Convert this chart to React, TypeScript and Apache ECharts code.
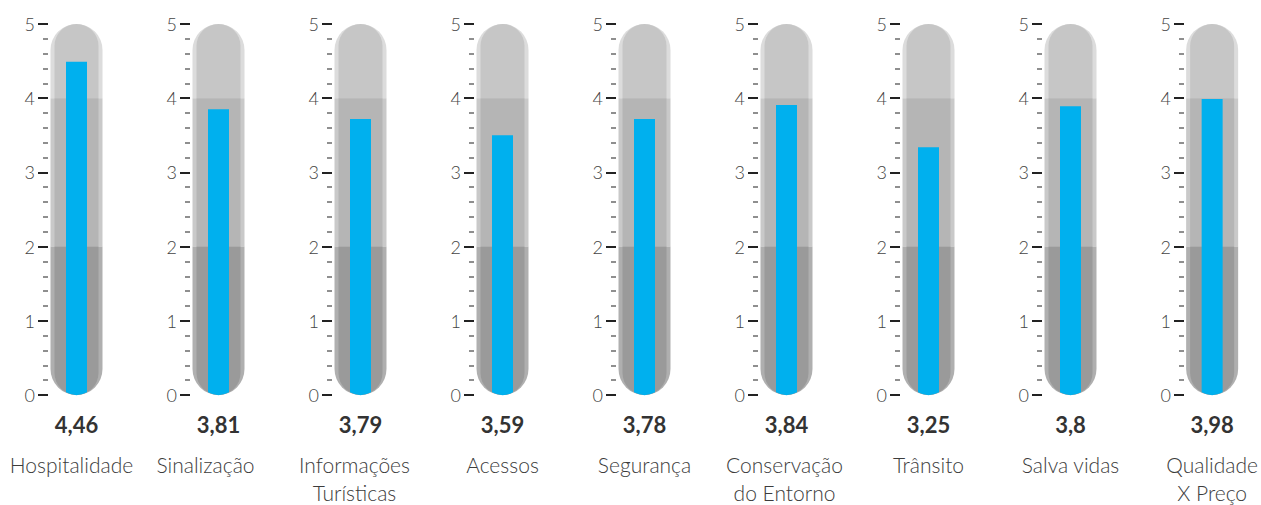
import React, { useEffect, useRef } from "react";
import * as echarts from "echarts";

const categories = [
  "Hospitalidade",
  "Sinalização",
  "Informações\nTurísticas",
  "Acessos",
  "Segurança",
  "Conservação\ndo Entorno",
  "Trânsito",
  "Salva vidas",
  "Qualidade\nX Preço",
];
// printed scores under each gauge
const scores = [4.46, 3.81, 3.79, 3.59, 3.78, 3.84, 3.25, 3.8, 3.98];
// level of the blue column as drawn in the picture
const levels = [4.49, 3.85, 3.72, 3.5, 3.72, 3.91, 3.34, 3.89, 3.99];
const bandBreaks = [2, 4];
const yMin = 0;
const yMax = 5;

// layout: horizontal nudge of each category name (px)
const nameShift = [-5, -13, -6, 0, 0, -2, 0, 0, 0];

const FONT = "Lato, 'Noto Sans', sans-serif";

export default function App() {
  const ref = useRef<HTMLDivElement>(null);
  useEffect(() => {
    if (!ref.current) return;
    const chart = echarts.init(ref.current, null, { renderer: "svg" });
    const n = categories.length;
    const firstCenter = 76.5;
    const step = 142;
    const grids: any[] = [];
    const xAxes: any[] = [];
    const yAxes: any[] = [];
    const series: any[] = [];
    for (let i = 0; i < n; i++) {
      const cx = firstCenter + step * i;
      grids.push({ left: cx - 28.5, width: 57, top: 24, bottom: 110 });
      const fmtScore = String(scores[i]).replace(".", ",");
      const nameLines = categories[i].split("\n");
      const sh = nameShift[i];
      const pad = sh < 0 ? [0, -2 * sh, 0, 0] : [0, 0, 0, 2 * sh];
      xAxes.push({
        type: "category",
        gridIndex: i,
        data: [categories[i]],
        axisLine: { show: false },
        axisTick: { show: false },
        axisLabel: {
          interval: 0,
          margin: 3,
          formatter: () =>
            `{v|${fmtScore}}\n` + nameLines.map((l) => `{n|${l}}`).join("\n"),
          rich: {
            v: {
              fontSize: 22,
              fontWeight: "bold",
              color: "#333",
              fontFamily: FONT,
              lineHeight: 52,
              align: "center",
            },
            n: {
              fontSize: 21,
              fontWeight: 300,
              color: "#3c3c3c",
              fontFamily: FONT,
              lineHeight: 28,
              align: "center",
              padding: pad,
            },
          },
        },
      });
      yAxes.push({
        type: "value",
        gridIndex: i,
        min: yMin,
        max: yMax,
        interval: 1,
        axisLine: { show: false, lineStyle: { color: "#222" } },
        axisTick: { show: true, length: 10, lineStyle: { color: "#222", width: 2 } },
        minorTick: { show: true, splitNumber: 5, length: 5, lineStyle: { color: "#6a6a6a", width: 1.5 } },
        splitLine: { show: false },
        minorSplitLine: { show: false },
        axisLabel: {
          margin: 13,
          fontSize: 18,
          fontWeight: 300,
          color: "#444",
          fontFamily: FONT,
        },
      });
      series.push({
        type: "custom",
        xAxisIndex: i,
        yAxisIndex: i,
        clip: false,
        data: [[0, levels[i]]],
        renderItem: (params: any, api: any) => {
          const [x, y0] = api.coord([0, yMin]);
          const y5 = api.coord([0, yMax])[1];
          const y2 = api.coord([0, bandBreaks[0]])[1];
          const y4 = api.coord([0, bandBreaks[1]])[1];
          const yt = api.coord([0, api.value(1)])[1];
          const capsule = (R: number) => ({
            top: `M${x - R},${y4} L${x - R},${y5 + R} A${R},${R} 0 0 1 ${x + R},${y5 + R} L${x + R},${y4} Z`,
            mid: `M${x - R},${y2} L${x - R},${y4} L${x + R},${y4} L${x + R},${y2} Z`,
            bot: `M${x - R},${y2} L${x + R},${y2} L${x + R},${y0 - R} A${R},${R} 0 0 1 ${x - R},${y0 - R} Z`,
          });
          const outer = capsule(26);
          const inner = capsule(22);
          const r = 22;
          const w = 10.5;
          const dy = Math.sqrt(r * r - w * w);
          const cy = y0 - r;
          const blue = `M${x - w},${yt} L${x + w},${yt} L${x + w},${cy + dy} A${r},${r} 0 0 1 ${x - w},${cy + dy} Z`;
          const p = (d: string, fill: string) => ({
            type: "path",
            shape: { pathData: d },
            style: { fill },
          });
          return {
            type: "group",
            children: [
              p(outer.top, "#dcdcdc"),
              p(outer.mid, "#c9c9c9"),
              p(outer.bot, "#afafaf"),
              p(inner.top, "#c6c6c6"),
              p(inner.mid, "#b5b5b5"),
              p(inner.bot, "#9a9a9a"),
              p(blue, "#00b0ee"),
            ],
          };
        },
      });
    }
    chart.setOption({
      animation: false,
      backgroundColor: "#ffffff",
      grid: grids,
      xAxis: xAxes,
      yAxis: yAxes,
      series,
    });
    return () => chart.dispose();
  }, []);
  return (
    <div
      ref={ref}
      style={{ position: "fixed", left: 0, top: 0, width: 1261, height: 505 }}
    />
  );
}
